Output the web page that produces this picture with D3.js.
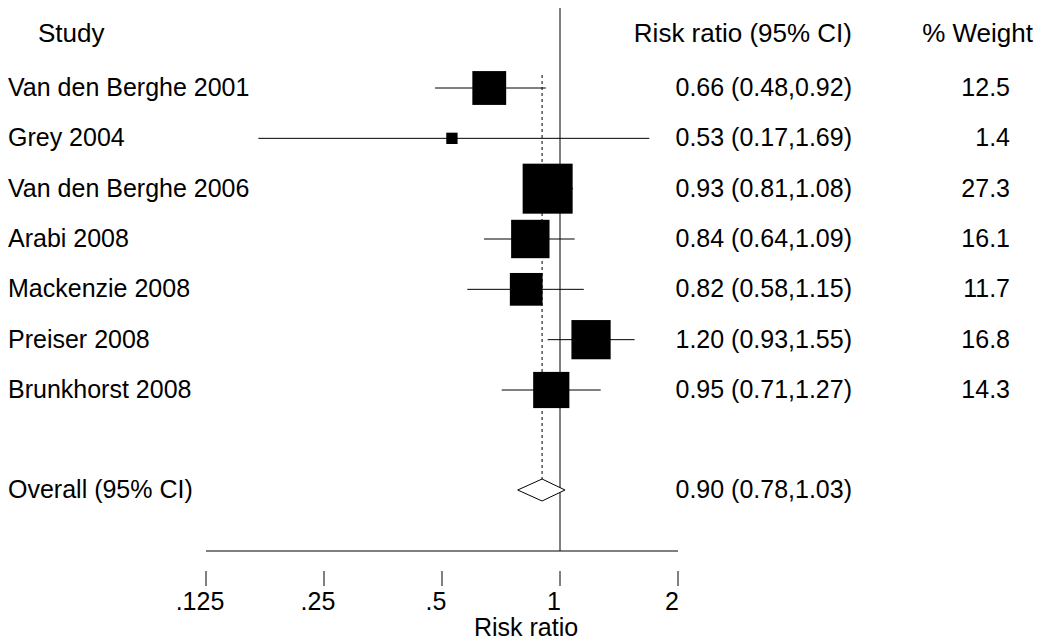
<!DOCTYPE html>
<html>
<head>
<meta charset="utf-8">
<script src="https://d3js.org/d3.v7.min.js"></script>
<style>
  body { margin: 0; background: #fff; }
  text { font-family: "Liberation Sans", Arial, sans-serif; font-size: 25px; fill: #000; }
  .hdr { font-size: 26px; }
</style>
</head>
<body>
<script>
const studies = ["Van den Berghe 2001", "Grey 2004", "Van den Berghe 2006", "Arabi 2008", "Mackenzie 2008", "Preiser 2008", "Brunkhorst 2008"];
const rr = [0.66, 0.53, 0.93, 0.84, 0.82, 1.20, 0.95];
const lo = [0.48, 0.17, 0.81, 0.64, 0.58, 0.93, 0.71];
const hi = [0.92, 1.69, 1.08, 1.09, 1.15, 1.55, 1.27];
const weights = [12.5, 1.4, 27.3, 16.1, 11.7, 16.8, 14.3];
const overall = { label: "Overall (95% CI)", rr: 0.90, lo: 0.78, hi: 1.03 };
const ticks = [0.125, 0.25, 0.5, 1, 2];
const tickLabels = [".125", ".25", ".5", "1", "2"];

const W = 1037, H = 643;
const svg = d3.select("body").append("svg").attr("width", W).attr("height", H);

const x = d3.scaleLog().base(2).domain([0.125, 2]).range([206, 678]);
const y = d3.scaleLinear().domain([0, 6]).range([88, 390]);
const yOverall = 490;
const side = d3.scaleSqrt().domain([0, 27.3]).range([0, 50]);

// headers
svg.append("text").attr("class", "hdr").attr("x", 38).attr("y", 42).text("Study");
svg.append("text").attr("class", "hdr").attr("x", 852).attr("y", 42).attr("text-anchor", "end").text("Risk ratio (95% CI)");
svg.append("text").attr("class", "hdr").attr("x", 1033).attr("y", 42).attr("text-anchor", "end").text("% Weight");

// reference lines
svg.append("line").attr("x1", x(1)).attr("x2", x(1)).attr("y1", 8).attr("y2", 551).attr("stroke", "#000");
svg.append("line").attr("x1", x(overall.rr)).attr("x2", x(overall.rr)).attr("y1", 75).attr("y2", yOverall)
  .attr("stroke", "#000").attr("stroke-dasharray", "3,3");

const rows = svg.selectAll(".row").data(studies).enter().append("g");
rows.append("text").attr("x", 8).attr("y", (d, i) => y(i) + 8).text(d => d);
rows.append("line").attr("x1", (d, i) => x(lo[i])).attr("x2", (d, i) => x(hi[i]))
  .attr("y1", (d, i) => y(i)).attr("y2", (d, i) => y(i)).attr("stroke", "#000");
rows.append("rect")
  .attr("x", (d, i) => x(rr[i]) - side(weights[i]) / 2)
  .attr("y", (d, i) => y(i) - side(weights[i]) / 2)
  .attr("width", (d, i) => side(weights[i]))
  .attr("height", (d, i) => side(weights[i]))
  .attr("fill", "#000");
rows.append("text").attr("x", 852).attr("y", (d, i) => y(i) + 8).attr("text-anchor", "end")
  .text((d, i) => `${rr[i].toFixed(2)} (${lo[i].toFixed(2)},${hi[i].toFixed(2)})`);
rows.append("text").attr("x", 1010).attr("y", (d, i) => y(i) + 8).attr("text-anchor", "end")
  .text((d, i) => weights[i].toFixed(1));

// overall
svg.append("text").attr("x", 8).attr("y", yOverall + 8).text(overall.label);
svg.append("path")
  .attr("d", `M${x(overall.lo)},${yOverall} L${x(overall.rr)},${yOverall - 11} L${x(overall.hi)},${yOverall} L${x(overall.rr)},${yOverall + 11} Z`)
  .attr("fill", "#fff").attr("stroke", "#000");
svg.append("text").attr("x", 852).attr("y", yOverall + 8).attr("text-anchor", "end")
  .text(`${overall.rr.toFixed(2)} (${overall.lo.toFixed(2)},${overall.hi.toFixed(2)})`);

// axis
svg.append("line").attr("x1", x(0.125)).attr("x2", x(2)).attr("y1", 551).attr("y2", 551).attr("stroke", "#000");
const tg = svg.selectAll(".tick").data(ticks).enter().append("g");
tg.append("line").attr("x1", d => x(d)).attr("x2", d => x(d)).attr("y1", 571).attr("y2", 586).attr("stroke", "#000");
tg.append("text").attr("x", (d, i) => x(d) - 6).attr("y", 610).attr("text-anchor", "middle").text((d, i) => tickLabels[i]);
svg.append("text").attr("x", 526).attr("y", 636).attr("text-anchor", "middle").text("Risk ratio");
</script>
</body>
</html>
